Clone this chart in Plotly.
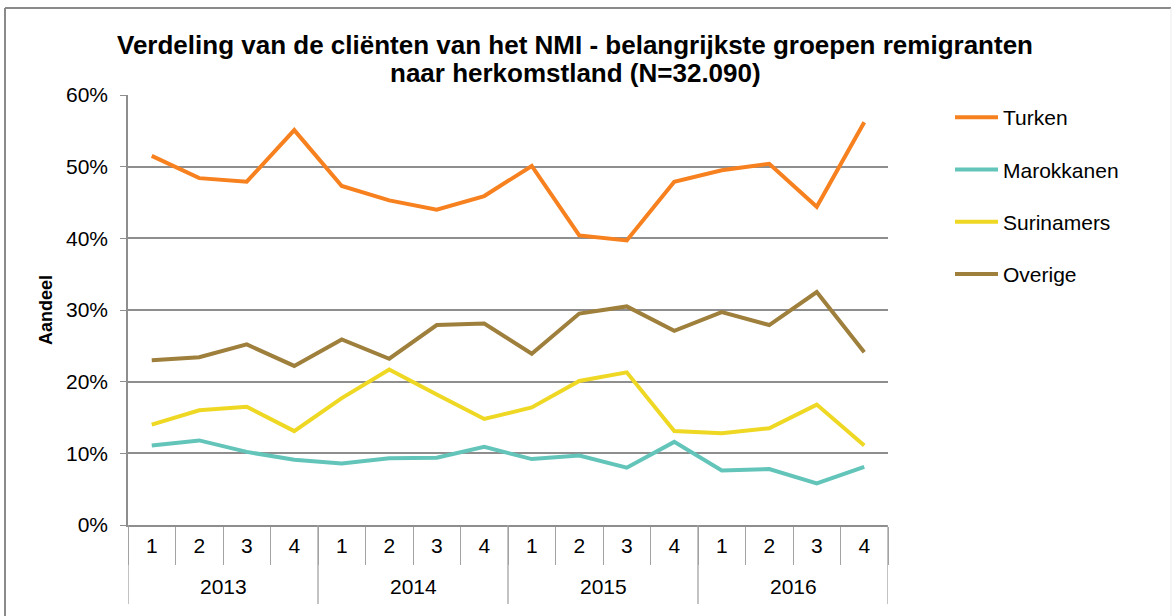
import plotly.graph_objects as go

years = ["2013"] * 4 + ["2014"] * 4 + ["2015"] * 4 + ["2016"] * 4
quarters = ["1", "2", "3", "4"] * 4

turken = [51.5, 48.4, 47.9, 55.1, 47.3, 45.3, 44.0, 45.9, 50.1, 40.4, 39.7, 47.9, 49.5, 50.4, 44.4, 56.2]
marokkanen = [11.1, 11.8, 10.2, 9.1, 8.6, 9.3, 9.4, 10.9, 9.2, 9.7, 8.0, 11.6, 7.6, 7.8, 5.8, 8.1]
surinamers = [14.0, 16.0, 16.5, 13.1, 17.7, 21.7, 18.2, 14.8, 16.4, 20.1, 21.3, 13.1, 12.8, 13.5, 16.8, 11.1]
overige = [23.0, 23.4, 25.2, 22.2, 25.9, 23.2, 27.9, 28.1, 23.9, 29.5, 30.5, 27.1, 29.7, 27.9, 32.5, 24.1]

title_lines = [
    "Verdeling van de cliënten van het NMI - belangrijkste groepen remigranten",
    "naar herkomstland (N=32.090)",
]

series = [
    ("Turken", turken, "#F7801F"),
    ("Marokkanen", marokkanen, "#63C5BA"),
    ("Surinamers", surinamers, "#EED823"),
    ("Overige", overige, "#9E7F3C"),
]

W, H = 1176, 616
L, R, T, B = 128, 888, 95, 525


def xp(px):
    return (px - L) / (R - L)


def yp(py):
    return (B - py) / (B - T)


FONT = "Liberation Sans, Arial, sans-serif"
GRID = "#8E8E8E"
DIV = "#A3A3A3"

idx = list(range(len(quarters)))

fig = go.Figure()
for i, (name, vals, col) in enumerate(series):
    fig.add_trace(go.Scatter(
        x=idx, y=vals, name=name, mode="lines",
        line=dict(color=col, width=4), legendgroup=f"g{i}",
    ))

# year groups: boundaries and centres derived from the category lists
groups = []
for i, yr in enumerate(years):
    if not groups or groups[-1][0] != yr:
        groups.append([yr, i, i])
    else:
        groups[-1][2] = i

shapes = []
annotations = []
bounds = sorted({g[1] - 0.5 for g in groups} | {g[2] + 0.5 for g in groups})
for bx in bounds:
    shapes.append(dict(type="line", xref="x", yref="paper",
                       x0=bx, x1=bx, y0=0, y1=yp(604),
                       line=dict(color=DIV, width=1.3)))
for yr, a, b in groups:
    annotations.append(dict(x=(a + b) / 2, y=yp(586), xref="x", yref="paper",
                            text=yr, showarrow=False, xanchor="center",
                            yanchor="middle",
                            font=dict(family=FONT, size=21, color="#000000")))

# second title line
annotations.append(dict(x=xp(575), y=yp(73), xref="paper", yref="paper",
                        text="<b>" + title_lines[1] + "</b>", showarrow=False,
                        xanchor="center", yanchor="middle",
                        font=dict(family=FONT, size=26, color="#000000")))

# outer frame
shapes.append(dict(type="line", xref="paper", yref="paper",
                   x0=xp(5), x1=xp(1171), y0=yp(8), y1=yp(8),
                   line=dict(color="#8A8A8A", width=2)))
shapes.append(dict(type="line", xref="paper", yref="paper",
                   x0=xp(5), x1=xp(5), y0=yp(8), y1=yp(640),
                   line=dict(color="#8A8A8A", width=2)))
shapes.append(dict(type="line", xref="paper", yref="paper",
                   x0=xp(1171), x1=xp(1171), y0=yp(8), y1=yp(640),
                   line=dict(color="#EBEBEB", width=1)))

fig.update_layout(
    width=W, height=H,
    margin=dict(l=L, r=W - R, t=T, b=H - B, autoexpand=False),
    paper_bgcolor="white", plot_bgcolor="white",
    font=dict(family=FONT, color="#000000", size=21),
    title=dict(
        text=title_lines[0],
        x=575 / W, xanchor="center", y=1 - 45 / H, yanchor="middle",
        font=dict(family=FONT, size=26, color="#000000", weight="bold"),
    ),
    xaxis=dict(
        range=[-0.5, len(quarters) - 0.5],
        tickmode="array", tickvals=idx, ticktext=quarters,
        showline=True, linecolor=GRID, linewidth=1.5,
        ticks="", showgrid=False, zeroline=False,
        ticklabelstandoff=1,
        tickfont=dict(family=FONT, size=21, color="#000000"),
        minor=dict(ticks="outside", ticklen=38, tick0=-0.5, dtick=1,
                   tickcolor=DIV, tickwidth=1.3, showgrid=False),
    ),
    yaxis=dict(
        range=[0, 60], dtick=10, ticksuffix="%", showgrid=True,
        gridcolor=GRID, gridwidth=1.5, showline=True, linecolor=GRID,
        linewidth=1.5, ticks="outside", ticklen=6, tickcolor=GRID,
        ticklabelstandoff=8,
        tickfont=dict(family=FONT, size=21, color="#000000"),
        zeroline=False,
        title=dict(text="<b>Aandeel</b>", standoff=9,
                   font=dict(family=FONT, size=18, color="#000000")),
    ),
    legend=dict(
        x=xp(950), xanchor="left", y=yp(97), yanchor="top",
        font=dict(family=FONT, size=21, color="#000000"),
        tracegroupgap=22, traceorder="grouped",
        bgcolor="rgba(0,0,0,0)", itemwidth=43,
    ),
    shapes=shapes,
    annotations=annotations,
    showlegend=True,
)

fig.write_html("out.html", config={"displayModeBar": False},
               post_script="document.body.style.margin='0px';")
